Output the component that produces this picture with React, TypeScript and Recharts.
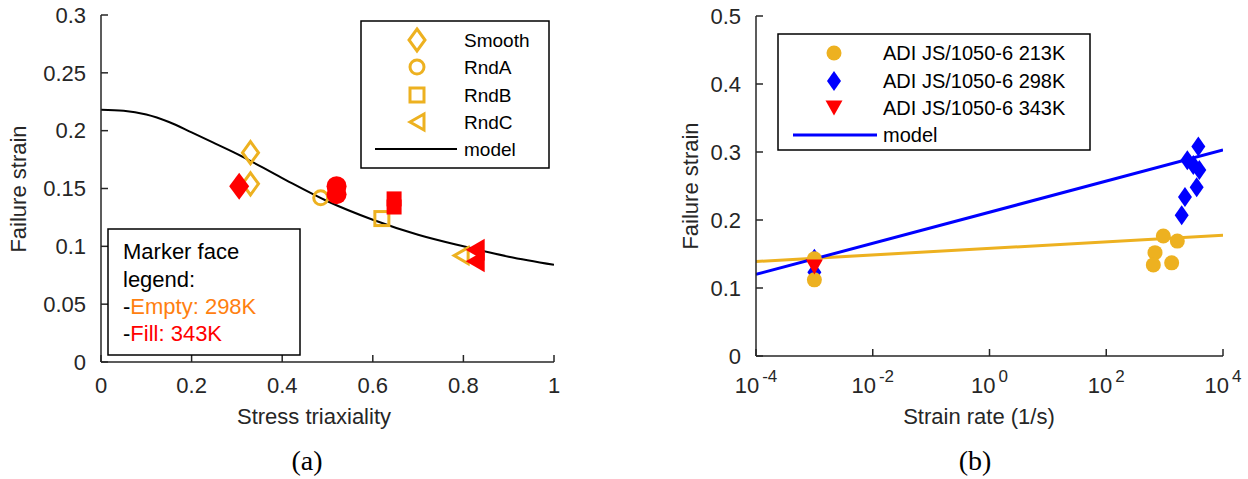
import React from 'react';
import { ComposedChart, Scatter, Line, XAxis, YAxis } from 'recharts';

const FONT = '"Liberation Sans", Arial, sans-serif';
const SERIF = '"Liberation Serif", "Times New Roman", serif';
const AXIS = '#262626';
const ORANGE = '#EDB120';
const RED = '#FF0000';
const BLUE = '#0000FF';

// (a) failure strain vs stress triaxiality, 298K = empty markers, 343K = filled
const smooth298 = [{ x: 0.33, y: 0.181 }, { x: 0.33, y: 0.154 }];
const smooth343 = [{ x: 0.305, y: 0.152 }];
const rndA298 = [{ x: 0.485, y: 0.142 }];
const rndA343 = [{ x: 0.52, y: 0.152 }, { x: 0.52, y: 0.145 }];
const rndB298 = [{ x: 0.62, y: 0.124 }];
const rndB343 = [{ x: 0.647, y: 0.141 }, { x: 0.647, y: 0.134 }];
const rndC298 = [{ x: 0.795, y: 0.092 }];
const rndC343 = [{ x: 0.826, y: 0.097 }, { x: 0.826, y: 0.087 }];

const modelTriax = [0, 0.05, 0.1, 0.15, 0.2, 0.25, 0.3, 0.4, 0.5, 0.6, 0.7, 0.8, 0.9, 1];
const modelStrainA = [0.218, 0.2172, 0.214, 0.2075, 0.1985, 0.1893, 0.18, 0.159, 0.139, 0.123, 0.11, 0.1, 0.091, 0.084];
const modelA = modelTriax.map((x, i) => ({ x, y: modelStrainA[i] }));

const triaxTicks = [0, 0.2, 0.4, 0.6, 0.8, 1];
const strainTicksA = [0, 0.05, 0.1, 0.15, 0.2, 0.25, 0.3];

// (b) failure strain vs strain rate
const adi213 = [
  { x: 0.001, y: 0.112 }, { x: 0.001, y: 0.143 },
  { x: 949, y: 0.1765 }, { x: 1650, y: 0.169 }, { x: 684, y: 0.152 },
  { x: 640, y: 0.134 }, { x: 1320, y: 0.137 },
];
const adi298 = [
  { x: 0.001, y: 0.143 }, { x: 0.001, y: 0.123 },
  { x: 3780, y: 0.308 }, { x: 2450, y: 0.288 }, { x: 3100, y: 0.281 },
  { x: 3930, y: 0.2735 }, { x: 3540, y: 0.248 }, { x: 2230, y: 0.234 }, { x: 1960, y: 0.207 },
];
const adi343 = [{ x: 0.001, y: 0.131 }];

const rateEnds = [1e-4, 1e4];
const model213 = [0.139, 0.1775];
const model298 = [0.12, 0.303];
const line213 = rateEnds.map((x, i) => ({ x, y: model213[i] }));
const line298 = rateEnds.map((x, i) => ({ x, y: model298[i] }));

const rateTicks = [1e-4, 1e-2, 1, 1e2, 1e4];
const strainTicksB = [0, 0.1, 0.2, 0.3, 0.4, 0.5];

// marker shapes
const diamondPath = (cx: number, cy: number, rx: number, ry: number) =>
  `M${cx},${cy - ry}L${cx + rx},${cy}L${cx},${cy + ry}L${cx - rx},${cy}Z`;
const triLeftPath = (cx: number, cy: number, w: number, h: number) =>
  `M${cx - w / 2},${cy}L${cx + w / 2},${cy - h / 2}L${cx + w / 2},${cy + h / 2}Z`;
const triDownPath = (cx: number, cy: number, w: number, h: number) =>
  `M${cx - w / 2},${cy - h / 2}L${cx + w / 2},${cy - h / 2}L${cx},${cy + h / 2}Z`;

const emptyDiamond = (p: any) => <path d={diamondPath(p.cx, p.cy, 8, 11)} fill="none" stroke={ORANGE} strokeWidth={3} />;
const fillDiamond = (p: any) => <path d={diamondPath(p.cx, p.cy, 10, 13.5)} fill={RED} />;
const emptyCircle = (p: any) => <circle cx={p.cx} cy={p.cy} r={7} fill="none" stroke={ORANGE} strokeWidth={3} />;
const fillCircle = (p: any) => <circle cx={p.cx} cy={p.cy} r={10} fill={RED} />;
const emptySquare = (p: any) => <rect x={p.cx - 7} y={p.cy - 7} width={14} height={14} fill="none" stroke={ORANGE} strokeWidth={3} />;
const fillSquare = (p: any) => <rect x={p.cx - 7.5} y={p.cy - 7.5} width={15} height={15} fill={RED} />;
const emptyTri = (p: any) => <path d={triLeftPath(p.cx, p.cy, 14, 16)} fill="none" stroke={ORANGE} strokeWidth={3} />;
const fillTri = (p: any) => <path d={triLeftPath(p.cx, p.cy, 19, 22)} fill={RED} />;

const dotB = (p: any) => <circle cx={p.cx} cy={p.cy} r={7.5} fill={ORANGE} />;
const diamondB = (p: any) => <path d={diamondPath(p.cx, p.cy, 7, 10)} fill={BLUE} />;
const triB = (p: any) => <path d={triDownPath(p.cx, p.cy, 17, 15)} fill={RED} />;

// matlab style ticks: short marks pointing into the plot box
const TICK = 7;
const GAP = 15;

const BottomTick = ({ x, y, payload }: any) => (
  <g>
    <line x1={x} x2={x} y1={y - GAP} y2={y - GAP - TICK} stroke={AXIS} strokeWidth={1.5} />
    <text x={x} y={y} dy="0.71em" textAnchor="middle" fill={AXIS} fontFamily={FONT} fontSize={22}>{payload.value}</text>
  </g>
);

const LeftTick = ({ x, y, payload }: any) => (
  <g>
    <line x1={x + GAP} x2={x + GAP + TICK} y1={y} y2={y} stroke={AXIS} strokeWidth={1.5} />
    <text x={x} y={y} dy="0.355em" textAnchor="end" fill={AXIS} fontFamily={FONT} fontSize={22}>{payload.value}</text>
  </g>
);

const PowTick = ({ x, y, payload }: any) => {
  const exp = Math.round(Math.log10(payload.value));
  return (
    <g>
      <line x1={x} x2={x} y1={y - GAP} y2={y - GAP - TICK} stroke={AXIS} strokeWidth={1.5} />
      <text x={x} y={y + 22} textAnchor="middle" fill={AXIS} fontFamily={FONT} fontSize={22}>
        <tspan>10</tspan>
        <tspan dx={3} dy={-11} fontSize={17}>{exp}</tspan>
      </text>
    </g>
  );
};

const TopTick = ({ x, y }: any) => <line x1={x} x2={x} y1={y} y2={y + TICK} stroke={AXIS} strokeWidth={1.5} />;
const RightTick = ({ x, y }: any) => <line x1={x} x2={x - TICK} y1={y} y2={y} stroke={AXIS} strokeWidth={1.5} />;

const ChartA = () => (
  <ComposedChart width={620} height={479} margin={{ top: 15, right: 66, bottom: 87, left: 41 }}>
    <XAxis dataKey="x" type="number" domain={[0, 1]} ticks={triaxTicks} interval={0} allowDataOverflow
      height={30} tickLine={false} tickSize={0} tickMargin={GAP} tick={<BottomTick />} stroke={AXIS} strokeWidth={1.5} />
    <XAxis xAxisId="t" orientation="top" dataKey="x" type="number" domain={[0, 1]} ticks={triaxTicks} interval={0}
      height={0} tickLine={false} tickSize={0} tickMargin={0} tick={<TopTick />} stroke={AXIS} strokeWidth={1.5} />
    <YAxis dataKey="y" type="number" domain={[0, 0.3]} ticks={strainTicksA} interval={0} allowDataOverflow
      width={60} tickLine={false} tickSize={0} tickMargin={GAP} tick={<LeftTick />} stroke={AXIS} strokeWidth={1.5} />
    <YAxis yAxisId="r" orientation="right" dataKey="y" type="number" domain={[0, 0.3]} ticks={strainTicksA} interval={0}
      width={0} tickLine={false} tickSize={0} tickMargin={0} tick={<RightTick />} stroke={AXIS} strokeWidth={1.5} />
    <Line data={modelA} dataKey="y" type="monotone" stroke="#000" strokeWidth={2} dot={false} isAnimationActive={false} />
    <Scatter data={smooth298} shape={emptyDiamond} isAnimationActive={false} />
    <Scatter data={smooth343} shape={fillDiamond} isAnimationActive={false} />
    <Scatter data={rndA298} shape={emptyCircle} isAnimationActive={false} />
    <Scatter data={rndA343} shape={fillCircle} isAnimationActive={false} />
    <Scatter data={rndB298} shape={emptySquare} isAnimationActive={false} />
    <Scatter data={rndB343} shape={fillSquare} isAnimationActive={false} />
    <Scatter data={rndC298} shape={emptyTri} isAnimationActive={false} />
    <Scatter data={rndC343} shape={fillTri} isAnimationActive={false} />
  </ComposedChart>
);

const ChartB = () => (
  <ComposedChart width={624} height={479} margin={{ top: 16, right: 25, bottom: 93, left: 72 }}>
    <XAxis dataKey="x" type="number" scale="log" domain={[1e-4, 1e4]} ticks={rateTicks} interval={0} allowDataOverflow
      height={30} tickLine={false} tickSize={0} tickMargin={GAP} tick={<PowTick />} stroke={AXIS} strokeWidth={1.5} />
    <XAxis xAxisId="t" orientation="top" dataKey="x" type="number" scale="log" domain={[1e-4, 1e4]} ticks={rateTicks} interval={0}
      height={0} tickLine={false} tickSize={0} tickMargin={0} tick={<TopTick />} stroke={AXIS} strokeWidth={1.5} />
    <YAxis dataKey="y" type="number" domain={[0, 0.5]} ticks={strainTicksB} interval={0} allowDataOverflow
      width={60} tickLine={false} tickSize={0} tickMargin={GAP} tick={<LeftTick />} stroke={AXIS} strokeWidth={1.5} />
    <YAxis yAxisId="r" orientation="right" dataKey="y" type="number" domain={[0, 0.5]} ticks={strainTicksB} interval={0}
      width={0} tickLine={false} tickSize={0} tickMargin={0} tick={<RightTick />} stroke={AXIS} strokeWidth={1.5} />
    <Line data={line213} dataKey="y" stroke={ORANGE} strokeWidth={3} dot={false} isAnimationActive={false} />
    <Line data={line298} dataKey="y" stroke={BLUE} strokeWidth={3} dot={false} isAnimationActive={false} />
    <Scatter data={adi298} shape={diamondB} isAnimationActive={false} />
    <Scatter data={adi213} shape={dotB} isAnimationActive={false} />
    <Scatter data={adi343} shape={triB} isAnimationActive={false} />
  </ComposedChart>
);

// legends, titles and captions drawn on top
const Overlay = () => (
  <svg width={1248} height={479} style={{ position: 'absolute', left: 0, top: 0, pointerEvents: 'none' }}
    fontFamily={FONT}>
    {/* (a) legend */}
    <rect x={361} y={21} width={188} height={147} fill="#fff" stroke="#000" strokeWidth={1.5} />
    {emptyDiamond({ cx: 417, cy: 40 })}
    {emptyCircle({ cx: 417, cy: 67 })}
    {emptySquare({ cx: 417, cy: 95 })}
    {emptyTri({ cx: 417, cy: 122 })}
    <line x1={375} x2={457} y1={149} y2={149} stroke="#000" strokeWidth={2} />
    {['Smooth', 'RndA', 'RndB', 'RndC', 'model'].map((t, i) => (
      <text key={t} x={464} y={[40, 67, 95, 122, 149][i] + 7} fontSize={19} fill="#000">{t}</text>
    ))}

    {/* (a) marker face note */}
    <rect x={108} y={229} width={192} height={126} fill="#fff" stroke="#000" strokeWidth={1.5} />
    <text x={123} y={259} fontSize={22} fill="#000">Marker face</text>
    <text x={123} y={286.5} fontSize={22} fill="#000">legend:</text>
    <text x={123} y={313.5} fontSize={22} fill="#000">-<tspan fill="#FF8010">Empty: 298K</tspan></text>
    <text x={123} y={341} fontSize={22} fill="#000">-<tspan fill={RED}>Fill: 343K</tspan></text>

    {/* (b) legend */}
    <rect x={778} y={34} width={312} height={116} fill="#fff" stroke="#000" strokeWidth={1.5} />
    {dotB({ cx: 834, cy: 53 })}
    {diamondB({ cx: 834, cy: 81 })}
    {triB({ cx: 834, cy: 108 })}
    <line x1={793} x2={877} y1={135} y2={135} stroke={BLUE} strokeWidth={3} />
    {['ADI JS/1050-6 213K', 'ADI JS/1050-6 298K', 'ADI JS/1050-6 343K', 'model'].map((t, i) => (
      <text key={t} x={883} y={[53, 81, 108, 135][i] + 7} fontSize={20} fill="#000">{t}</text>
    ))}

    {/* axis titles */}
    <text x={314} y={424} fontSize={22} fill={AXIS} textAnchor="middle">Stress triaxiality</text>
    <text x={979} y={424} fontSize={22} fill={AXIS} textAnchor="middle">Strain rate (1/s)</text>
    <text transform="translate(26,189) rotate(-90)" fontSize={22} fill={AXIS} textAnchor="middle">Failure strain</text>
    <text transform="translate(698,186) rotate(-90)" fontSize={22} fill={AXIS} textAnchor="middle">Failure strain</text>

    {/* captions */}
    <text x={307} y={470} fontSize={28} fontFamily={SERIF} fill="#000" textAnchor="middle">(a)</text>
    <text x={975} y={470} fontSize={28} fontFamily={SERIF} fill="#000" textAnchor="middle">(b)</text>
  </svg>
);

export default function App() {
  return (
    <div style={{ position: 'absolute', left: 0, top: 0, width: 1248, height: 479, background: '#fff', overflow: 'hidden' }}>
      <div style={{ position: 'absolute', left: 0, top: 0 }}>
        <ChartA />
      </div>
      <div style={{ position: 'absolute', left: 624, top: 0 }}>
        <ChartB />
      </div>
      <Overlay />
    </div>
  );
}
